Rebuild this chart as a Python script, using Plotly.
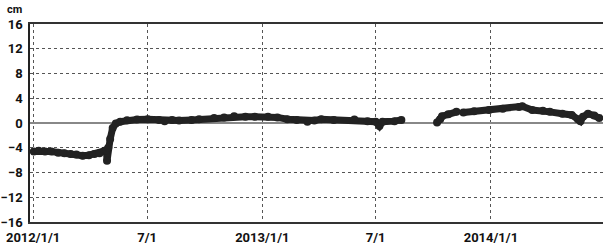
import plotly.graph_objects as go

dates = [
    "2012-01-02", "2012-01-10", "2012-01-20", "2012-01-30", "2012-02-10", "2012-02-20",
    "2012-03-01", "2012-03-10", "2012-03-20", "2012-03-30", "2012-04-08", "2012-04-16",
    "2012-04-24", "2012-04-27", "2012-04-28", "2012-04-30", "2012-05-03", "2012-05-07",
    "2012-05-12", "2012-05-19", "2012-05-30", "2012-06-15", "2012-07-02", "2012-07-20",
    "2012-07-29", "2012-08-10", "2012-08-21", "2012-09-10", "2012-09-22", "2012-10-16",
    "2012-11-01", "2012-11-17", "2012-12-05", "2012-12-20", "2013-01-10", "2013-01-25",
    "2013-02-10", "2013-02-25", "2013-03-14", "2013-03-25", "2013-04-05", "2013-04-25",
    "2013-05-28", "2013-06-18", "2013-07-01", "2013-07-07", "2013-07-12", "2013-07-31",
    "2013-08-11", "2013-09-10",
    "2013-10-07", "2013-10-12", "2013-10-15", "2013-10-25", "2013-11-07", "2013-11-12",
    "2013-11-18", "2013-12-05", "2013-12-29", "2014-01-20", "2014-02-15", "2014-02-20",
    "2014-03-08", "2014-03-25", "2014-04-05", "2014-04-25", "2014-05-10", "2014-05-20",
    "2014-05-24", "2014-05-28", "2014-06-05", "2014-06-15", "2014-06-23",
]
values_cm = [
    -4.6, -4.5, -4.6, -4.6, -4.8, -4.9,
    -5.0, -5.1, -5.3, -5.2, -5.0, -4.9,
    -4.5, -4.4, -6.1, -4.0, -2.6, -0.8,
    -0.1, 0.2, 0.45, 0.55, 0.6, 0.5,
    0.3, 0.5, 0.4, 0.5, 0.6, 0.8,
    0.9, 1.1, 1.0, 1.0, 1.0, 0.9,
    0.6, 0.5, 0.2, 0.4, 0.6, 0.5,
    0.55, 0.3, 0.2, -0.5, 0.2, 0.3,
    0.5, None,
    0.1, 0.6, 1.1, 1.4, 1.8, None,
    1.7, 1.9, 2.1, 2.3, 2.6, 2.7,
    2.1, 2.0, 1.8, 1.5, 1.3, 0.6,
    0.3, 1.0, 1.5, 1.2, 0.8,
]

x_tick_vals = ["2012-01-01", "2012-07-01", "2013-01-01", "2013-07-01", "2014-01-01"]
x_tick_text = ["2012/1/1", "7/1", "2013/1/1", "7/1", "2014/1/1"]
y_tick_vals = [16, 12, 8, 4, 0, -4, -8, -12, -16]

FONT = "Roboto, Liberation Sans, sans-serif"

fig = go.Figure()
fig.add_trace(go.Scatter(
    x=dates, y=values_cm, mode="lines+markers",
    line=dict(color="#222222", width=7),
    marker=dict(color="#222222", size=8),
    connectgaps=False, showlegend=False,
))

fig.update_layout(
    width=603, height=248,
    margin=dict(l=30, r=0, t=24, b=26),
    paper_bgcolor="white", plot_bgcolor="white",
    font=dict(family=FONT, size=13, color="#111111"),
    xaxis=dict(
        range=["2011-12-27", "2014-06-29"],
        tickvals=x_tick_vals, ticktext=x_tick_text,
        showgrid=True, gridcolor="#555555", griddash="dot", gridwidth=1,
        showline=True, linecolor="#333333", linewidth=2, mirror=True,
        ticks="", automargin=False, ticklabelstandoff=2,
        tickfont=dict(family=FONT, size=13, color="#111111", weight="bold"),
        zeroline=False,
    ),
    yaxis=dict(
        range=[-16, 16],
        tickvals=y_tick_vals,
        ticktext=[str(v).replace("-", "\u2212") for v in y_tick_vals],
        showgrid=True, gridcolor="#555555", griddash="dot", gridwidth=1,
        showline=True, linecolor="#222222", linewidth=1.5, mirror=False,
        zeroline=True, zerolinecolor="#888888", zerolinewidth=1.5,
        ticks="", ticklabelstandoff=3, automargin=False,
        tickfont=dict(family=FONT, size=13, color="#111111", weight="bold"),
    ),
)

fig.add_annotation(
    text="cm", xref="paper", yref="paper", x=-0.027, y=1.0, yshift=6,
    xanchor="center", yanchor="bottom", showarrow=False,
    font=dict(family=FONT, size=11, color="#111111", weight="bold"),
)

fig.write_html(
    "out.html",
    config={"displayModeBar": False},
    post_script="document.body.style.margin='0';document.body.style.overflow='hidden';",
)
